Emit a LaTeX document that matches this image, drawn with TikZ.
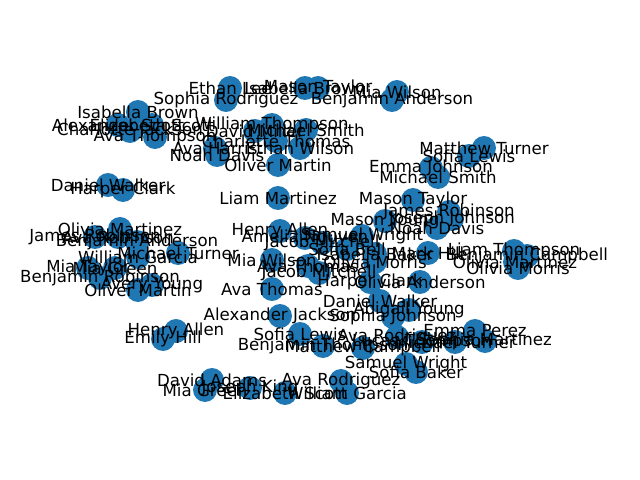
\documentclass[tikz,border=0pt]{standalone}
\usepackage{fontspec}
\setmainfont{DejaVu Sans}
\usetikzlibrary{backgrounds}

\begin{document}
\begin{tikzpicture}[x=0.01in, y=-0.01in]

      \definecolor{nxblue}{HTML}{1F77B4}

      \tikzstyle{person}     = [circle, fill=nxblue, minimum size=17.3pt, inner sep=0pt]
      \tikzstyle{personname} = [font=\fontsize{12}{14}\selectfont, inner sep=0pt, text=black]
      \tikzstyle{tie}        = [line width=1pt, black]

      \useasboundingbox[fill=white] (0,0) rectangle (640,480);

      % name/x/y/label
      \newcommand{\people}{%
        ethanlee/230/88/Ethan Lee, sophiarod/226/100/Sophia Rodriguez,
        isabrowntop/305/88/Isabella Brown, masontaylortop/318/88/Mason Taylor,
        miawilsontop/397/92/Mia Wilson, benandersontop/392/100/Benjamin Anderson,
        isabrownleft/138/112/Isabella Brown, alexscott/118/125/Alexander Scott,
        elizscott/152/125/Elizabeth Scott, charjackson/130/131/Charlotte Jackson,
        avathompson/155/137/Ava Thompson,
        willthompson/272/125/William Thompson, davidmiller/255/131/David Miller,
        michaelsmith/306/130/Michael Smith, charthomas/276/141/Charlotte Thomas,
        ethanwilson/300/148/Ethan Wilson, avaharris/215/148/Ava Harris,
        noahdavis/217/155/Noah Davis, olivermartin/278/165/Oliver Martin,
        liammartinez/278/198/Liam Martinez, henryallen/280/231/Henry Allen,
        amelianguyen/305/238/Amelia Nguyen, jacobmitchell/322/243/Jacob Mitchell,
        sofiabell/347/249/Sofia Bell, samuelwright/362/236/Samuel Wright,
        isabaker/375/254/Isabella Baker, masonyoung/385/221/Mason Young,
        josephjohnson/452/219/Joseph Johnson, noahdavisright/437/228/Noah Davis,
        oliviamorris/375/262/Olivia Morris, markhill/428/253/Mark Hill,
        miawilson/272/260/Mia Wilson, avathomas/272/289/Ava Thomas,
        avathomasmid/308/266/Ava Thomas, jacobmitchellmid/319/273/Jacob Mitchell,
        harperclark/370/282/Harper Clark, oliviaanderson/420/282/Olivia Anderson,
        danielwalker/380/301/Daniel Walker, abigailyoung/409/310/Abigail Young,
        sophiajohnson/393/317/Sophia Johnson, alexjackson/280/316/Alexander Jackson,
        sofialewis/300/334/Sofia Lewis, benthompson/323/346/Benjamin Thompson,
        matthewcampbell/363/348/Matthew Campbell, avarodriguez/397/337/Ava Rodriguez,
        lucasthompson/422/342/Lucas Thompson, michaelturner/455/342/Michael Turner,
        emmaperez/475/331/Emma Perez, sophiamartinez/485/341/Sophia Martinez,
        samuelwrightlow/406/364/Samuel Wright, sofiabaker/416/372/Sofia Baker,
        avarodriguezlow/341/381/Ava Rodriguez, williamgarcia/347/393/William Garcia,
        elizscottlow/285/393/Elizabeth Scott, josephking/250/388/Joseph King,
        miagreen/205/390/Mia Green, davidadams/212/380/David Adams,
        henryallenlow/176/331/Henry Allen, emilyhill/163/339/Emily Hill,
        danielwalkerleft/108/185/Daniel Walker, harperclarkleft/123/190/Harper Clark,
        oliviamartinez/120/229/Olivia Martinez, jamesrobinson/95/237/James Robinson,
        avarobinson/118/237/Ava Robinson, benandersonleft/137/242/Benjamin Anderson,
        michaelturnerleft/178/253/Michael Turner, williamgarcialeft/138/257/William Garcia,
        miataylor/88/268/Mia Taylor, miagreenleft/115/268/Mia Green,
        benrobinson/100/278/Benjamin Robinson, averyyoung/152/285/Avery Young,
        olivermartinleft/138/290/Oliver Martin,
        matthewturner/484/148/Matthew Turner, sofialewisright/469/156/Sofia Lewis,
        emmajohnson/431/168/Emma Johnson, michaelsmithright/438/177/Michael Smith,
        masontaylor/413/200/Mason Taylor, jamesrobinsonright/449/212/James Robinson,
        liamthompson/514/251/Liam Thompson, benjamincampbell/527/256/Benjamin Campbell,
        oliviamartinezright/515/262/Olivia Martinez, oliviamorrisright/518/268/Olivia Morris}

      \foreach \n/\x/\y/\t in \people {
        \node [person] (\n) at (\x,\y) {};
      }

      \begin{scope}[on background layer]
        \foreach \a/\b in {ethanlee/sophiarod, isabrowntop/masontaylortop, miawilsontop/benandersontop,
                           isabrownleft/elizscott, alexscott/elizscott, elizscott/avathompson, charjackson/avathompson,
                           willthompson/davidmiller, willthompson/michaelsmith, michaelsmith/ethanwilson,
                           charthomas/ethanwilson, ethanwilson/olivermartin, avaharris/noahdavis,
                           olivermartin/liammartinez, liammartinez/henryallen, henryallen/miawilson,
                           henryallen/amelianguyen, amelianguyen/jacobmitchell, jacobmitchell/sofiabell,
                           sofiabell/samuelwright, samuelwright/isabaker, isabaker/oliviamorris,
                           samuelwright/masonyoung, josephjohnson/noahdavisright, noahdavisright/jamesrobinsonright,
                           jamesrobinsonright/masontaylor, oliviamorris/markhill, markhill/oliviaanderson,
                           oliviamorris/harperclark, harperclark/danielwalker, danielwalker/sophiajohnson,
                           sophiajohnson/abigailyoung, miawilson/avathomas, avathomas/alexjackson,
                           alexjackson/sofialewis, avathomasmid/jacobmitchellmid, jacobmitchellmid/harperclark,
                           sofialewis/benthompson, benthompson/matthewcampbell, matthewcampbell/avarodriguez,
                           avarodriguez/lucasthompson, lucasthompson/michaelturner, michaelturner/emmaperez,
                           emmaperez/sophiamartinez, sophiajohnson/avarodriguez, samuelwrightlow/sofiabaker,
                           avarodriguezlow/williamgarcia, elizscottlow/williamgarcia, josephking/elizscottlow,
                           miagreen/davidadams, henryallenlow/emilyhill, danielwalkerleft/harperclarkleft,
                           oliviamartinez/benandersonleft, jamesrobinson/avarobinson, avarobinson/benandersonleft,
                           benandersonleft/williamgarcialeft, williamgarcialeft/michaelturnerleft,
                           miataylor/miagreenleft, miagreenleft/benrobinson, benrobinson/olivermartinleft,
                           olivermartinleft/averyyoung, williamgarcialeft/miagreenleft,
                           matthewturner/sofialewisright, emmajohnson/michaelsmithright,
                           liamthompson/benjamincampbell, benjamincampbell/oliviamartinezright,
                           oliviamartinezright/oliviamorrisright} {
          \draw [tie] (\a) -- (\b);
        }
      \end{scope}

      \foreach \n/\x/\y/\t in \people {
        \node [personname] (\n-name) at (\n) {\t};
      }

    \end{tikzpicture}
\end{document}
